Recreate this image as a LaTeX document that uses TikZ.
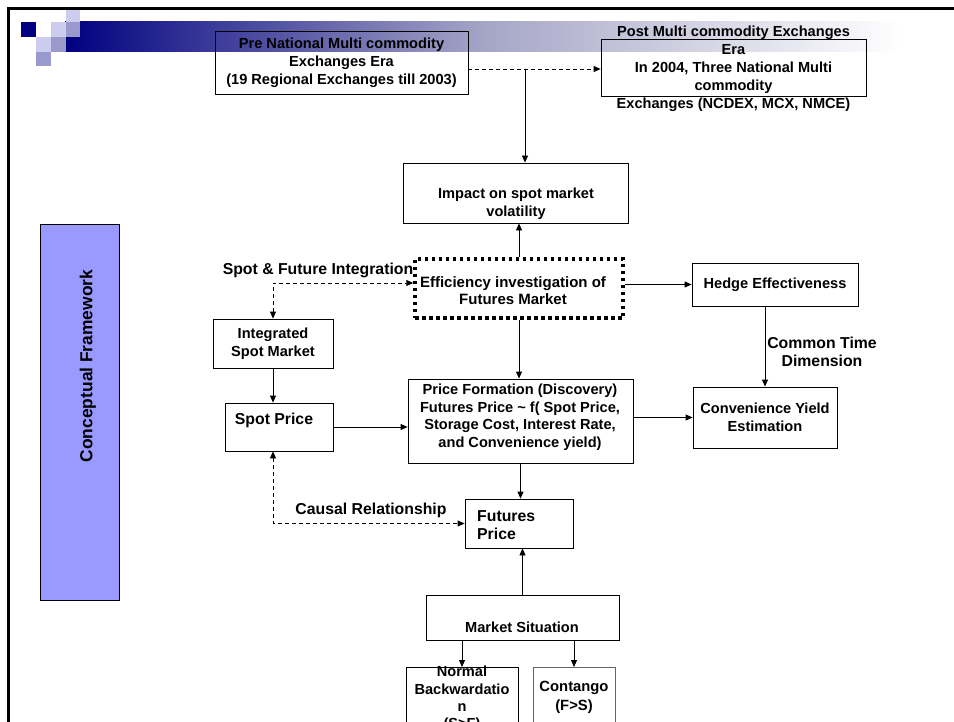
\documentclass[tikz,border=0pt]{standalone}
\usepackage{fontspec}
\setmainfont{Liberation Sans}
\usetikzlibrary{arrows.meta,calc}
\definecolor{navyc}{HTML}{000080}
\definecolor{lav}{HTML}{CCCCEE}
\definecolor{medl}{HTML}{9999CC}
\definecolor{barmid}{HTML}{A4A4C6}
\definecolor{cfill}{HTML}{9999FF}
\begin{document}
\begin{tikzpicture}[x=1bp,y=-1bp,
  box/.style={draw=black, line width=0.8bp, inner sep=0pt},
  effbox/.style={draw=black, line width=3.5bp, dash pattern=on 3.5bp off 3.5bp, inner sep=0pt},
  txt/.style={font=\fontsize{14.6bp}{18bp}\selectfont\bfseries, align=center, inner sep=0pt},
  lbl/.style={font=\fontsize{15.8bp}{18.5bp}\selectfont\bfseries, align=center, inner sep=0pt},
  arr/.style={line width=0.8bp, -{Triangle[length=7bp,width=6bp]}},
  darr/.style={arr, dash pattern=on 4bp off 3bp},
  darrb/.style={line width=0.8bp, dash pattern=on 4bp off 3bp, {Triangle[length=7bp,width=6bp]}-{Triangle[length=7bp,width=6bp]}}]
\useasboundingbox (0,0) rectangle (954,722);
\clip (0,0) rectangle (954,722);
% title bar decoration
\shade[left color=navyc, right color=barmid] (65,22) rectangle (480,52);
\shade[left color=barmid, right color=white] (479.5,22) rectangle (900,52);
\fill[navyc] (21,22) rectangle (36,37);
\fill[lav] (51,22) rectangle (66,37);
\fill[medl] (66,22) rectangle (80,37);
\fill[lav] (66,10) rectangle (80,22);
\fill[lav] (36,37) rectangle (51,52);
\fill[medl] (51,37) rectangle (66,52);
\fill[medl] (36,52) rectangle (51,66);
\draw[line width=3bp] (8.5,730) -- (8.5,9) -- (960,9);
% boxes
\node[box, txt, minimum width=253bp, minimum height=63bp] (pre) at (341.5,62.5) {Pre National Multi commodity\\Exchanges Era\\(19 Regional Exchanges till 2003)};
\node[box, minimum width=265bp, minimum height=57bp] (post) at (733.5,67.5) {};
\node[txt] (postT) at (733.5,68.5) {Post Multi commodity Exchanges\\Era\\In 2004, Three National Multi\\commodity\\Exchanges (NCDEX, MCX, NMCE)};
\node[box, minimum width=225bp, minimum height=60bp] (impact) at (515.5,193) {};
\node[txt] (impactT) at (516,203.5) {Impact on spot market\\volatility};
\node[effbox, minimum width=208bp, minimum height=59bp] (eff) at (519,288.5) {};
\node[txt, font=\fontsize{15bp}{17.5bp}\selectfont\bfseries] (effT) at (513,290.5) {Efficiency investigation of\\Futures Market};
\node[box, txt, minimum width=120bp, minimum height=49bp] (integ) at (273,343.5) {Integrated\\Spot Market};
\node[box, minimum width=108bp, minimum height=48bp] (spot) at (279,427) {};
\node[lbl] (spotT) at (274,420) {Spot Price};
\node[box, minimum width=225bp, minimum height=84bp] (price) at (520.5,421) {};
\node[txt, font=\fontsize{14.6bp}{17.5bp}\selectfont\bfseries] (priceT) at (520,417) {Price Formation (Discovery)\\Futures Price \textasciitilde{} f( Spot Price,\\Storage Cost, Interest Rate,\\and Convenience yield)};
\node[box, txt, minimum width=166bp, minimum height=43bp] (hedge) at (775,284.5) {Hedge Effectiveness};
\node[box, txt, minimum width=144bp, minimum height=61bp] (conv) at (765,417.5) {Convenience Yield\\Estimation};
\node[box, minimum width=108bp, minimum height=49bp] (fut) at (519,523.5) {};
\node[lbl, align=left, anchor=west] (futT) at (477,525) {Futures\\Price};
\node[box, minimum width=193bp, minimum height=45bp] (market) at (522.5,617.5) {};
\node[txt] (marketT) at (522,627) {Market Situation};
\node[box, minimum width=112bp, minimum height=100bp, anchor=north] (normal) at (462,667) {};
\node[txt, font=\fontsize{14.6bp}{17.3bp}\selectfont\bfseries] (normalT) at (462,699) {Normal\\Backwardatio\\n\\(S>F)};
\node[box, draw=black!60, minimum width=82bp, minimum height=100bp, anchor=north] (cont) at (574,667) {};
\node[txt, font=\fontsize{14.8bp}{19bp}\selectfont\bfseries] (contT) at (574,697.5) {Contango\\(F>S)};
\node[box, fill=cfill, minimum width=79bp, minimum height=376bp] (concept) at (79.5,412) {};
\node[font=\fontsize{17.4bp}{20bp}\selectfont\bfseries, rotate=90, inner sep=0pt] (conceptT) at (88,366) {Conceptual Framework};
% labels
\node[lbl] (sfi) at (318,270) {Spot \& Future Integration};
\node[lbl] (ctd) at (822,352) {Common Time\\Dimension};
\node[lbl] (causal) at (371,510) {Causal Relationship};
% connectors
\coordinate (j) at (525,69);
\draw[darr] (pre.east |- j) -- (post.west |- j);
\draw[arr] (j) -- (j |- impact.north);
\draw[arr] (eff.north) -- (eff.north |- impact.south);
\draw[arr] (eff.south) -- (eff.south |- price.north);
\draw[darrb] (integ.north) |- ($(eff.west)+(0,-5.5)$);
\draw[arr] (integ.south) -- (integ.south |- spot.north);
\draw[arr] (spot.east) -- (spot.east -| price.west);
\draw[arr] (eff.east |- hedge.west) -- (hedge.west);
\draw[arr] (conv.north |- hedge.south) -- (conv.north);
\draw[arr] (price.east |- conv.west) -- (conv.west);
\draw[arr] (price.south) -- (price.south |- fut.north);
\draw[darrb] (integ.south |- spot.south) |- (fut.west);
\draw[arr] (market.north) -- (market.north |- fut.south);
\draw[arr] (normal.north |- market.south) -- (normal.north);
\draw[arr] (cont.north |- market.south) -- (cont.north);
\end{tikzpicture}
\end{document}
